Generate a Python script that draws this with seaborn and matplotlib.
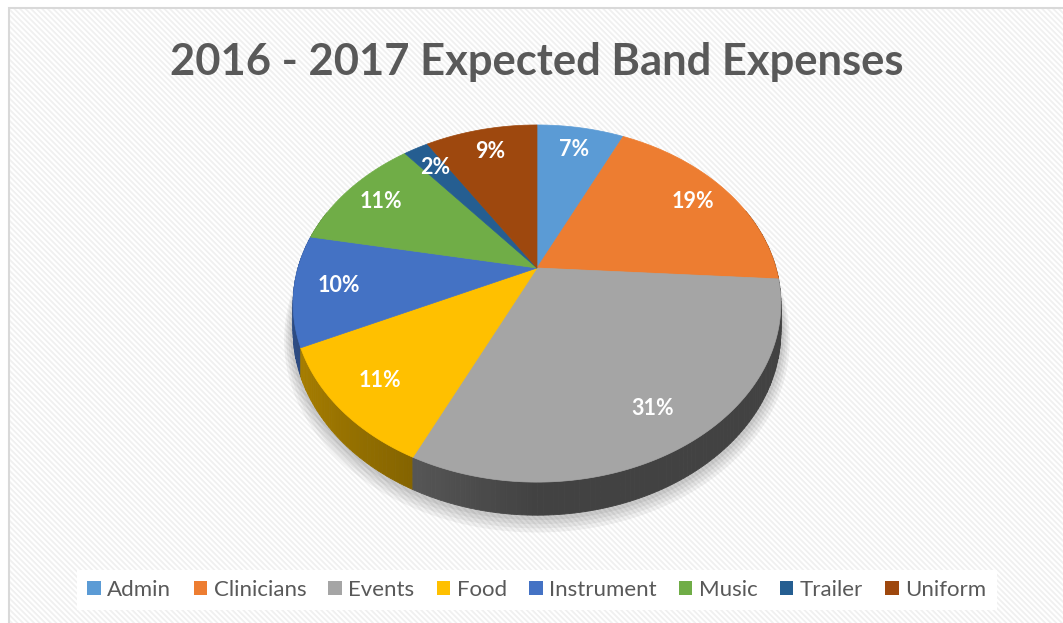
import numpy as np
import matplotlib
matplotlib.use("Agg")
import matplotlib.pyplot as plt
from matplotlib.patches import Polygon, Rectangle, Patch
import seaborn as sns

# chart data
categories = ["Admin", "Clinicians", "Events", "Food", "Instrument", "Music", "Trailer", "Uniform"]
shares = [7, 19, 31, 11, 10, 11, 2, 9]
slice_colors = ["#5B9BD5", "#ED7D31", "#A5A5A5", "#FFC000", "#4472C4", "#70AD47", "#255E91", "#9E480E"]
title = "2016 - 2017 Expected Band Expenses"

sns.set_style("white")
plt.rcParams["font.family"] = ["Lato", "DejaVu Sans"]
plt.rcParams["hatch.linewidth"] = 1.3
palette = sns.color_palette(slice_colors)

W, H = 1063, 623
fig = plt.figure(figsize=(W / 100, H / 100), dpi=100)
ax = fig.add_axes([0, 0, 1, 1])
ax.set_xlim(0, W)
ax.set_ylim(H, 0)
ax.axis("off")

# background: hatched chart area with light border
ax.add_patch(Rectangle((9, 8), W + 20, H + 20, facecolor="white",
                       edgecolor="#D9D9D9", linewidth=1.5, zorder=0))
ax.add_patch(Rectangle((10, 9), W + 20, H + 20, facecolor="none",
                       edgecolor="#F0F0F0", linewidth=0, hatch="\\\\\\\\\\\\", zorder=0.5))

# perspective projection of the pie disc
CX, CY = 537, 268
P = 0.199
A, B = 239, 171.5
DEPTH = 26.5


def project(x, y, drop=0.0):
    w = 1 + P * y
    return CX + A * x / w, CY - B * y / w + drop / w


def arc(t0, t1, r=1.0, drop=0.0, n=None):
    n = n or max(4, int(abs(t1 - t0) / np.radians(0.5)))
    t = np.linspace(t0, t1, n)
    return [project(r * np.cos(a), r * np.sin(a), drop) for a in t]


fracs = np.array(shares, dtype=float) / np.sum(shares)
ends = np.radians(90) - 2 * np.pi * np.cumsum(fracs)
starts = np.concatenate([[np.radians(90)], ends[:-1]])

# soft shadow under the pie
for k, alpha in enumerate([0.05, 0.05, 0.05, 0.06]):
    grow = 1.035 - k * 0.008
    pts = arc(0, 2 * np.pi, r=grow, drop=DEPTH + 6 - k * 1.5)
    ax.add_patch(Polygon(pts, closed=True, facecolor="black", edgecolor="none",
                         alpha=alpha, zorder=1))

# side walls, back to front
segments = []
for i, (t0, t1) in enumerate(zip(starts, ends)):
    steps = np.linspace(t0, t1, max(3, int(abs(t1 - t0) / np.radians(1.0))))
    for a0, a1 in zip(steps[:-1], steps[1:]):
        mid = 0.5 * (a0 + a1)
        if np.sin(mid) > 0.35:
            continue
        segments.append((np.sin(mid), i, a0, a1, mid))
segments.sort(key=lambda s: -s[0])
for _, i, a0, a1, mid in segments:
    shade = 0.40 + 0.28 * max(0.0, -np.cos(mid))
    col = np.clip(np.array(palette[i]) * shade, 0, 1)
    top = arc(a0, a1, n=3)
    bottom = arc(a1, a0, drop=DEPTH, n=3)
    ax.add_patch(Polygon(top + bottom, closed=True, facecolor=col,
                         edgecolor=col, linewidth=0.6, zorder=2))

# top faces
for i, (t0, t1) in enumerate(zip(starts, ends)):
    pts = [project(0, 0)] + arc(t0, t1)
    ax.add_patch(Polygon(pts, closed=True, facecolor=palette[i],
                         edgecolor=palette[i], linewidth=0.5, zorder=3))

# percentage labels
for i, (t0, t1) in enumerate(zip(starts, ends)):
    mid = 0.5 * (t0 + t1)
    lx, ly = project(0.82 * np.cos(mid), 0.82 * np.sin(mid))
    ax.text(lx, ly, f"{shares[i]:.0f}%", ha="center", va="center",
            color="white", fontsize=15.5, fontweight="bold", zorder=4)

ax.text(537, 62, title, ha="center", va="center", color="#595959",
        fontsize=31.3, fontweight="bold", zorder=4)

handles = [Patch(facecolor=palette[i], edgecolor="none", label=c)
           for i, c in enumerate(categories)]
leg = ax.legend(handles=handles, loc="center", bbox_to_anchor=(537 / W, 1 - 590 / H),
                ncol=len(categories), frameon=True, fontsize=16,
                handlelength=0.6, handleheight=0.6, handletextpad=0.3,
                columnspacing=1.0, borderpad=0.45, fancybox=False)
leg.get_frame().set_facecolor("white")
leg.get_frame().set_edgecolor("none")
leg.get_frame().set_alpha(1.0)
leg.set_zorder(5)
for txt in leg.get_texts():
    txt.set_color("#595959")

fig.savefig("out.png", dpi=100)
plt.close("all")
